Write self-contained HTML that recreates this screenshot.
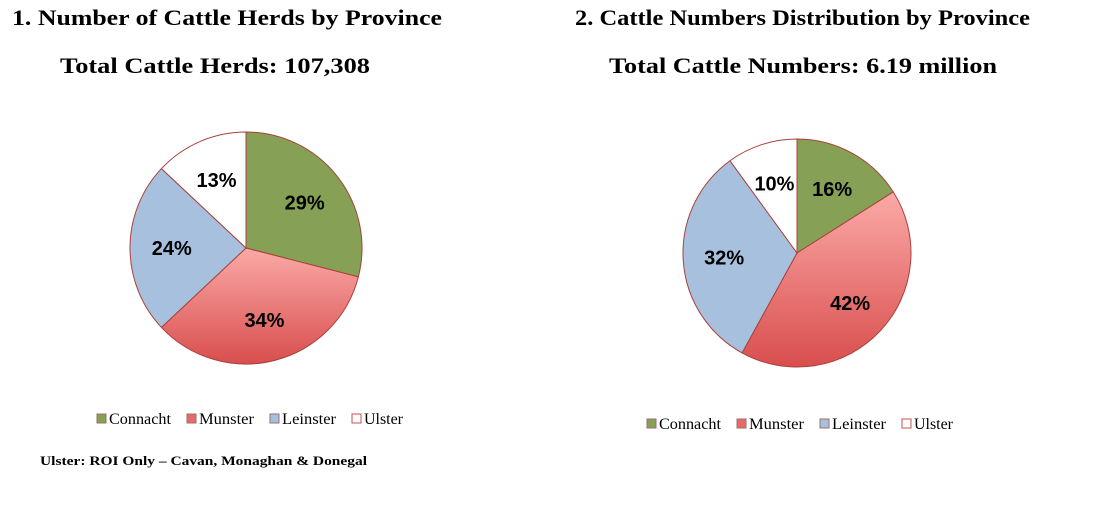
<!DOCTYPE html>
<html><head><meta charset="utf-8"><style>
body{margin:0;background:#fff;width:1103px;height:500px;overflow:hidden}
svg text{font-family:"Liberation Serif",serif}
</style></head><body>
<svg id="c" width="1103" height="500">
<defs>
<linearGradient id="mg" x1="0" y1="0" x2="0" y2="1"><stop offset="0" stop-color="#fbaaa7"/><stop offset="1" stop-color="#d84e4d"/></linearGradient>
</defs>
<text x="12" y="25" font-size="22" font-weight="bold" textLength="430" lengthAdjust="spacingAndGlyphs">1. Number of Cattle Herds by Province</text>
<text x="60" y="73" font-size="22" font-weight="bold" textLength="310" lengthAdjust="spacingAndGlyphs">Total Cattle Herds: 107,308</text>
<text x="575" y="25" font-size="22" font-weight="bold" textLength="455" lengthAdjust="spacingAndGlyphs">2. Cattle Numbers Distribution by Province</text>
<text x="609" y="73" font-size="22" font-weight="bold" textLength="388" lengthAdjust="spacingAndGlyphs">Total Cattle Numbers: 6.19 million</text>
<text x="40" y="465" font-size="13" font-weight="bold" textLength="327" lengthAdjust="spacingAndGlyphs">Ulster: ROI Only – Cavan, Monaghan &amp; Donegal</text>
</svg>
<script>
const categories=["Connacht","Munster","Leinster","Ulster"];
const herdValues=[29,34,24,13];
const cattleValues=[16,42,32,10];
const fills=["#86a055","url(#mg)","#a7c0dd","#ffffff"];
const legendFills=["#86a055","#e66a68","#a7c0dd","#ffffff"];
const svg=document.getElementById('c');
const NS="http://www.w3.org/2000/svg";
function mk(t,a){const e=document.createElementNS(NS,t);for(const k in a)e.setAttribute(k,a[k]);svg.appendChild(e);return e;}
function pie(vals,cx,cy,r,name){
  const tot=vals.reduce((a,b)=>a+b,0);let a0=0;
  vals.forEach((v,i)=>{
    const a1=a0+v/tot*2*Math.PI;
    const p=(a)=>[cx+r*Math.sin(a),cy-r*Math.cos(a)];
    const [x0,y0]=p(a0),[x1,y1]=p(a1);
    const d=`M${cx},${cy}L${x0},${y0}A${r},${r} 0 ${a1-a0>Math.PI?1:0} 1 ${x1},${y1}Z`;
    const s=mk('path',{d:d,fill:fills[i],stroke:"#a8423d","stroke-width":1});
    
    
    const am=(a0+a1)/2,lr=r*0.64;
    const t=mk('text',{x:cx+lr*Math.sin(am),y:cy-lr*Math.cos(am)+7,"text-anchor":"middle","font-size":20,"font-weight":"bold",style:"font-family:'Liberation Sans',sans-serif"});
    t.textContent=v+"%";
    
    
    a0=a1;
  });
}
function legend(xs,y,name){
  const tw=[62,55,54,39];
  categories.forEach((c,i)=>{
    const cx=xs[i];
    const r=mk('rect',{x:cx,y:y-10,width:9,height:9,fill:legendFills[i],stroke:i==3?"#c0504d":"#9a7070","stroke-width":1});
    
    
    const t=mk('text',{x:cx+12,y:y,"font-size":16,textLength:tw[i],lengthAdjust:"spacingAndGlyphs"});
    t.textContent=c;
    
    
  });
}
pie(herdValues,246,248,116,'chart1');
pie(cattleValues,797,253,114,'chart2');
legend([97,187,270,352],424,'chart1');
legend([647,737,820,902],429,'chart2');
</script>
</body></html>
